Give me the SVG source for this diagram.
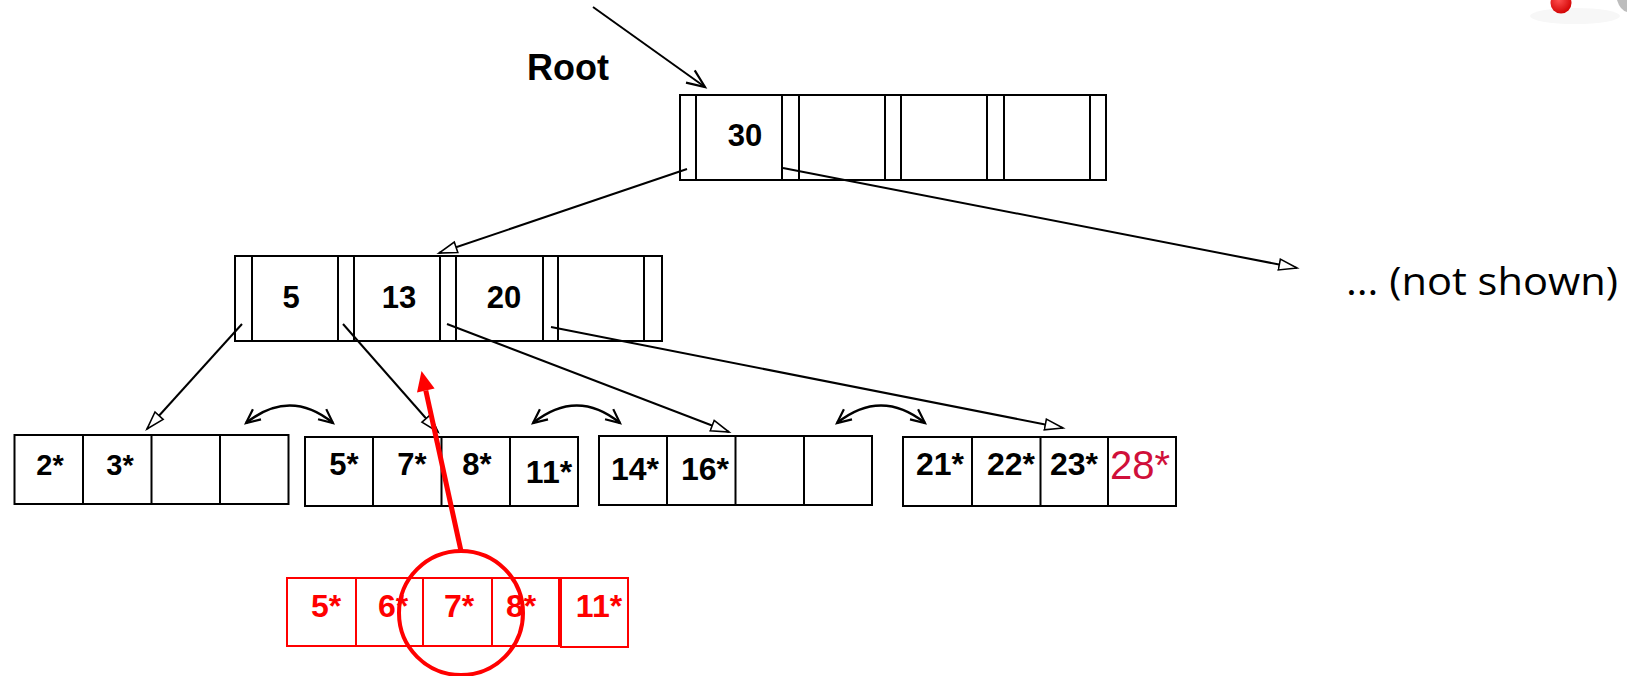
<svg xmlns="http://www.w3.org/2000/svg" width="1627" height="676" viewBox="0 0 1627 676">
<style>
.box{fill:#fff;stroke:#000;stroke-width:2}
.div{stroke:#000;stroke-width:2}
.rbox{fill:#fff;stroke:#f00;stroke-width:2}
.rdiv{stroke:#f00;stroke-width:2}
.k{font-family:"Liberation Sans",Arial,sans-serif;font-weight:bold;fill:#000;text-anchor:middle}
.rk{font-family:"Liberation Sans",Arial,sans-serif;font-weight:bold;fill:#f00;text-anchor:middle;font-size:32px}
.ptr{stroke:#000;stroke-width:2;fill:none;marker-end:url(#tri)}
.sib{stroke:#000;stroke-width:2.5;fill:none;marker-start:url(#vee);marker-end:url(#vee)}
</style>
<defs>
<marker id="tri" markerUnits="userSpaceOnUse" markerWidth="22" markerHeight="14" refX="19" refY="7" orient="auto">
<path d="M1,1.5 L19,7 L1,12.5 Z" fill="#fff" stroke="#000" stroke-width="1.6"/>
</marker>
<marker id="vee" markerUnits="userSpaceOnUse" markerWidth="18" markerHeight="16" refX="15" refY="8" orient="auto-start-reverse">
<path d="M1,1.5 L15,8 L1,14.5" fill="none" stroke="#000" stroke-width="2.2"/>
</marker>
<marker id="open" markerUnits="userSpaceOnUse" markerWidth="22" markerHeight="18" refX="19" refY="9" orient="auto">
<path d="M1,1.5 L19,9 L1,16.5" fill="none" stroke="#000" stroke-width="2.2"/>
</marker>
<radialGradient id="ball" cx="0.4" cy="0.35" r="0.7">
<stop offset="0" stop-color="#ff5050"/>
<stop offset="1" stop-color="#d00000"/>
</radialGradient>
</defs>

<g id="decoration">
<ellipse cx="1575" cy="16" rx="45" ry="8" fill="#f7f7f7"/>
<circle cx="1561" cy="3" r="10.5" fill="url(#ball)"/>
<path d="M1617,0 L1627,0 L1627,12 Q1620,10 1617,0 Z" fill="#bdbdbd"/>
</g>

<g id="root-label">
<text class="k" x="568" y="80" font-size="36">Root</text>
</g>

<g id="root-node">
<rect class="box" x="680" y="95" width="426" height="85"/>
<path class="div" d="M696,95V180M782,95V180M799,95V180M885,95V180M901,95V180M987,95V180M1004,95V180M1090,95V180"/>
<text class="k" x="745" y="146" font-size="31">30</text>
</g>

<g id="inner-node">
<rect class="box" x="235" y="256" width="427" height="85"/>
<path class="div" d="M252,256V341M338,256V341M354,256V341M440,256V341M456,256V341M543,256V341M558,256V341M644,256V341"/>
<text class="k" x="291" y="308" font-size="31">5</text>
<text class="k" x="399" y="308" font-size="31">13</text>
<text class="k" x="504" y="308" font-size="31">20</text>
</g>

<g id="not-shown">
<text x="1346" y="295" font-family="'Open Sans','Noto Sans',sans-serif" font-size="38" textLength="272" lengthAdjust="spacingAndGlyphs" fill="#000">… (not shown)</text>
</g>

<g id="leaf1">
<rect class="box" x="14.5" y="435" width="274" height="69"/>
<path class="div" d="M83,435V504M151.5,435V504M220,435V504"/>
<text class="k" x="50" y="475" font-size="29">2*</text>
<text class="k" x="120" y="475" font-size="29">3*</text>
</g>

<g id="leaf2">
<rect class="box" x="305" y="437" width="273" height="69"/>
<path class="div" d="M373,437V506M441.5,437V506M510,437V506"/>
<text class="k" x="344" y="475" font-size="31">5*</text>
<text class="k" x="412" y="475" font-size="31">7*</text>
<text class="k" x="477" y="475" font-size="31">8*</text>
<text class="k" x="549" y="483" font-size="32">11*</text>
</g>

<g id="leaf3">
<rect class="box" x="599" y="436" width="273" height="69"/>
<path class="div" d="M667,436V505M735.5,436V505M804,436V505"/>
<text class="k" x="635" y="480" font-size="32">14*</text>
<text class="k" x="705" y="480" font-size="32">16*</text>
</g>

<g id="leaf4">
<rect class="box" x="903" y="437" width="273" height="69"/>
<path class="div" d="M972,437V506M1040.5,437V506M1108,437V506"/>
<text class="k" x="940" y="475" font-size="32">21*</text>
<text class="k" x="1011" y="475" font-size="32">22*</text>
<text class="k" x="1074" y="475" font-size="32">23*</text>
<text x="1140" y="479" font-family="'Liberation Sans',Arial,sans-serif" font-size="40" fill="#d0103a" text-anchor="middle">28*</text>
</g>

<g id="split-leaf">
<rect class="rbox" x="287" y="578" width="272" height="68"/>
<path class="rdiv" d="M356,578V646M423,578V646M492,578V646"/>
<rect class="rbox" x="561" y="578" width="67" height="69"/>
<text class="rk" x="326" y="617">5*</text>
<text class="rk" x="393" y="617">6*</text>
<text class="rk" x="459" y="617">7*</text>
<text class="rk" x="521" y="617">8*</text>
<text class="rk" x="599" y="617">11*</text>
</g>

<g id="connectors">
<line x1="593" y1="7" x2="705" y2="87" stroke="#000" stroke-width="2" marker-end="url(#open)"/>
<line class="ptr" x1="687" y1="169" x2="439" y2="253"/>
<line class="ptr" x1="783" y1="168" x2="1297" y2="268"/>
<line class="ptr" x1="242" y1="324" x2="147" y2="429"/>
<line class="ptr" x1="343" y1="324" x2="438" y2="432"/>
<line class="ptr" x1="447" y1="324" x2="729" y2="432"/>
<line class="ptr" x1="551" y1="327" x2="1063" y2="428"/>
<path class="sib" d="M246,423 Q290,388 333,423"/>
<path class="sib" d="M533,423 Q577,388 620,423"/>
<path class="sib" d="M837,423 Q881,388 925,423"/>
</g>

<g id="highlight">
<circle cx="461" cy="613" r="62" fill="none" stroke="#f00" stroke-width="4"/>
<line x1="461" y1="551" x2="425.8" y2="390.5" stroke="#f00" stroke-width="5"/>
<polygon points="421.5,371 434.6,388.6 417,392.4" fill="#f00"/>
</g>
</svg>
